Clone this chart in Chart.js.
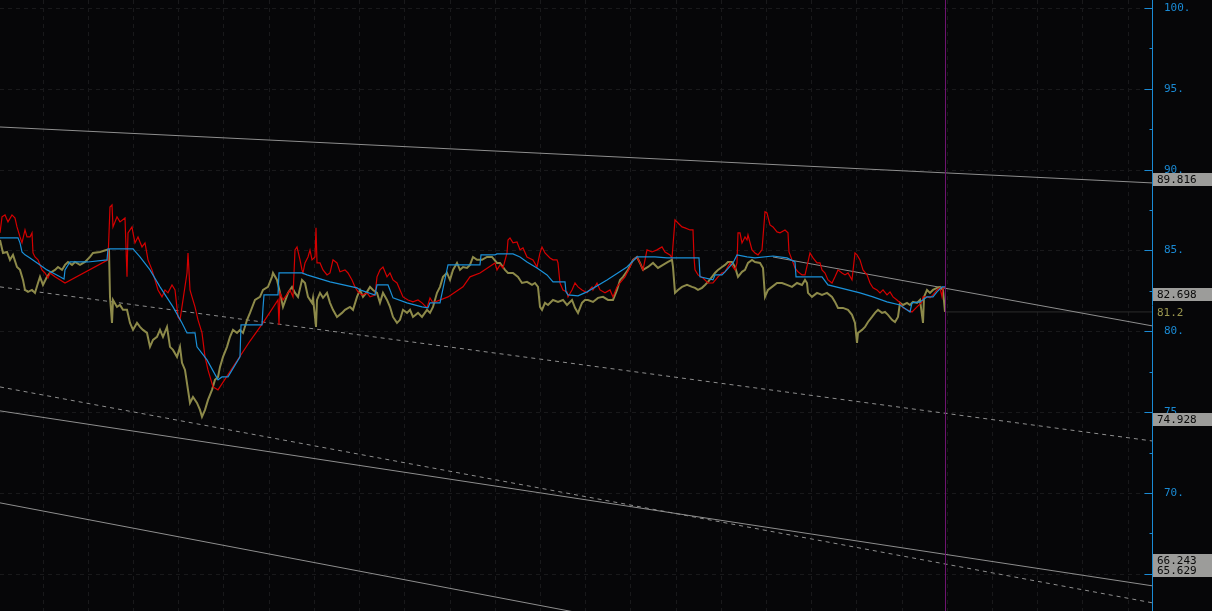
<!DOCTYPE html>
<html lang="en">
<head>
    <meta charset="UTF-8">
    <title>Price channels</title>
    <script src="https://cdn.jsdelivr.net/npm/chart.js"></script>
    <style>
        body {
            margin: 0;
            background: #060608;
            overflow: hidden;
        }
    </style>
</head>
<body>
    <canvas id="myChart" width="1212" height="611"></canvas>
    <script>
        // bar index of the last bar / cursor, and the visible range
        const firstBar = 0;
        const lastBar = 1152;
        const cursorBar = 945;

        const priceMin = 62.70;
        const priceMax = 100.495;

        // axis ticks (every 2.5, labelled every 5) and vertical time grid
        const yTickValues = [65, 67.5, 70, 72.5, 75, 77.5, 80, 82.5, 85, 87.5, 90, 92.5, 95, 97.5, 100];
        const xGridBars = [43, 88, 133, 178, 223, 269, 314, 359, 404, 450, 495, 540, 585, 630, 676, 721, 766, 811, 856, 902, 947, 992, 1037, 1082, 1128];

        // price tags at the right edge
        const tagValues = [89.816, 82.698, 74.928, 66.243, 65.629];
        const oliveTag = 81.2;

        // [bar, price]
        const redSeries = [
            [0,86.09],[2,87.08],[5,87.20],[8,86.77],[12,87.20],[15,87.01],[17,86.46],[20,85.84],[22,85.47],[25,86.27],
            [27,85.84],[30,85.84],[32,86.09],[33,84.85],[35,84.60],[38,84.42],[42,83.80],[45,83.61],[48,83.30],[50,83.61],
            [55,83.37],[65,82.99],[108,84.42],[110,87.69],[112,87.82],[113,86.46],[117,87.08],[120,86.77],[125,87.01],[127,83.37],
            [128,86.09],[132,86.46],[133,86.09],[135,85.47],[138,85.84],[142,85.22],[145,85.47],[148,84.42],[152,83.80],[155,83.18],
            [158,82.56],[162,82.13],[165,82.56],[168,82.38],[172,82.87],[175,82.56],[178,80.89],[180,80.71],[183,81.94],[187,83.61],
            [188,84.85],[190,82.56],[192,82.13],[195,81.51],[198,80.71],[202,79.90],[205,78.42],[208,77.61],[213,76.56],[218,76.38],
            [250,79.40],[263,80.52],[278,81.94],[279,80.40],[280,82.38],[283,81.94],[290,82.56],[293,82.13],[295,85.03],[297,85.22],
            [300,84.42],[302,83.80],[303,83.61],[305,84.23],[308,84.60],[310,85.03],[312,84.42],[315,84.60],[316,86.40],[317,84.23],
            [320,84.23],[323,83.80],[327,83.49],[330,83.61],[333,84.42],[337,84.23],[340,83.68],[345,83.80],[348,83.61],[352,83.18],
            [355,82.75],[358,82.44],[362,82.25],[367,82.38],[370,82.13],[375,82.25],[377,83.37],[380,83.80],[383,83.98],[387,83.37],
            [390,83.61],[393,83.18],[397,82.99],[400,82.56],[403,82.13],[408,81.94],[413,81.82],[418,81.94],[422,81.76],[427,81.45],
            [430,82.07],[433,81.76],[448,82.13],[463,82.75],[470,83.37],[480,83.61],[495,84.23],[497,83.80],[500,84.11],[503,83.92],
            [507,84.85],[508,85.65],[510,85.78],[513,85.47],[517,85.53],[520,85.04],[523,85.16],[527,84.60],[533,84.42],[537,83.98],
            [540,84.85],[542,85.22],[545,84.85],[550,84.54],[553,84.42],[557,84.42],[558,84.23],[560,82.99],[563,82.56],[567,82.44],
            [568,82.13],[572,82.56],[575,82.99],[578,82.75],[582,82.56],[587,82.38],[592,82.75],[593,82.56],[597,82.99],[600,82.56],
            [605,82.38],[610,82.56],[613,82.13],[617,82.75],[620,82.99],[625,83.37],[630,83.98],[633,84.42],[637,84.60],[640,84.23],
            [643,83.80],[647,85.04],[652,84.91],[657,85.04],[662,85.22],[665,84.91],[670,84.73],[672,84.54],[675,86.89],[678,86.70],
            [682,86.46],[685,86.40],[690,86.27],[693,86.27],[694,84.60],[695,83.80],[698,83.49],[703,83.30],[708,82.99],[713,82.99],
            [718,83.37],[722,83.61],[725,83.68],[730,84.23],[735,83.80],[737,84.23],[738,86.09],[740,86.09],[742,85.47],[745,85.84],
            [747,85.65],[748,85.96],[752,85.04],[755,84.85],[758,84.73],[762,85.04],[765,87.39],[767,87.32],[770,86.58],[773,86.46],
            [777,86.15],[780,86.09],[785,86.27],[788,86.09],[789,84.91],[792,84.42],[795,83.92],[798,83.68],[802,83.49],[805,83.49],
            [808,84.29],[810,84.85],[813,84.54],[817,84.23],[820,84.23],[822,83.80],[825,83.61],[828,83.18],[832,82.99],[835,83.37],
            [838,83.80],[842,83.61],[845,83.49],[848,83.61],[852,83.18],[855,84.85],[857,84.73],[860,84.42],[863,83.80],[867,83.49],
            [870,82.99],[873,82.69],[877,82.56],[880,82.38],[883,82.56],[887,82.25],[890,82.44],[893,82.13],[897,81.94],[900,81.76],
            [903,81.45],[907,81.33],[912,81.20],[917,81.51],[922,81.82],[923,82.13],[927,82.13],[930,82.07],[933,82.25],[937,82.56],
            [940,82.69],[942,82.13],[943,82.69],[945,82.70]
        ];

        const oliveSeries = [
            [0,85.65],[3,84.85],[7,84.91],[10,84.42],[13,84.73],[17,83.98],[20,83.80],[23,83.18],[25,82.56],[28,82.44],
            [32,82.56],[35,82.38],[38,82.99],[40,83.37],[43,82.87],[47,83.37],[50,83.61],[55,83.80],[58,83.98],[62,83.80],
            [65,84.11],[68,84.29],[72,84.11],[75,84.29],[80,84.11],[85,84.29],[90,84.60],[93,84.85],[100,84.91],[107,85.04],
            [109,85.04],[110,82.13],[112,80.52],[113,81.94],[117,81.51],[120,81.63],[123,81.33],[127,81.33],[130,80.52],[133,80.09],
            [137,80.52],[140,80.27],[143,80.09],[147,79.90],[150,79.04],[153,79.47],[157,79.66],[160,80.09],[163,79.66],[167,80.27],
            [170,79.04],[173,78.85],[177,78.42],[180,79.04],[182,78.05],[185,77.61],[188,76.38],[190,75.57],[193,75.94],[197,75.57],
            [200,75.14],[202,74.71],[205,75.14],[208,75.76],[212,76.38],[215,77.00],[218,77.18],[220,77.80],[223,78.42],[227,79.04],
            [230,79.66],[233,80.09],[237,79.90],[240,80.09],[243,79.90],[247,80.70],[250,81.14],[255,81.94],[260,82.13],[263,82.56],
            [268,82.75],[272,83.37],[273,83.61],[277,83.18],[280,82.38],[283,81.51],[288,82.38],[292,82.75],[295,82.38],[298,82.13],
            [302,83.18],[305,82.99],[308,82.13],[312,81.76],[313,82.07],[316,80.27],[317,81.94],[320,82.38],[323,82.07],[327,82.38],
            [330,81.76],[333,81.33],[337,80.89],[342,81.14],[345,81.33],[350,81.51],[353,81.33],[357,82.13],[360,82.56],[363,82.13],
            [367,82.44],[370,82.75],[373,82.56],[377,82.38],[380,81.76],[383,82.38],[387,81.94],[390,81.51],[393,80.89],[397,80.52],
            [400,80.71],[403,81.33],[407,81.14],[410,81.33],[413,80.89],[418,81.14],[422,80.89],[427,81.33],[430,81.14],[433,81.51],
            [437,82.38],[440,82.75],[443,83.37],[447,83.61],[450,83.18],[453,83.80],[457,84.23],[460,83.80],[463,83.98],[467,83.92],
            [470,84.11],[473,84.60],[477,84.42],[482,84.42],[487,84.60],[492,84.60],[497,84.23],[500,84.23],[505,83.80],[508,83.61],
            [513,83.61],[518,83.37],[522,82.99],[527,83.06],[532,82.87],[535,82.99],[538,82.75],[540,81.51],[542,81.33],[545,81.76],
            [548,81.63],[553,81.94],[558,81.82],[563,81.94],[567,81.63],[572,81.94],[575,81.45],[578,81.14],[582,81.76],[585,81.94],
            [588,81.94],[593,81.82],[598,82.07],[603,82.13],[608,81.94],[613,81.94],[617,82.56],[620,83.18],[623,83.37],[628,83.80],
            [633,84.42],[637,84.60],[640,84.23],[643,83.80],[648,83.98],[653,84.23],[658,83.92],[663,84.11],[668,84.29],[672,84.42],
            [673,83.98],[675,82.38],[678,82.56],[682,82.75],[687,82.87],[692,82.75],[695,82.69],[698,82.56],[702,82.69],[705,82.87],
            [708,83.06],[712,83.37],[715,83.61],[718,83.80],[722,83.98],[725,84.11],[728,84.29],[732,84.29],[735,83.98],[738,83.37],
            [742,83.68],[745,83.80],[748,84.23],[752,84.42],[755,84.29],[760,84.23],[763,83.92],[765,82.13],[768,82.56],[772,82.75],
            [777,82.99],[782,82.99],[787,82.87],[792,82.75],[797,82.99],[802,82.87],[805,83.18],[807,82.99],[808,82.38],[812,82.13],
            [817,82.38],[822,82.25],[827,82.38],[832,82.13],[835,81.82],[838,81.45],[843,81.45],[848,81.33],[852,81.02],[855,80.52],
            [857,79.28],[858,79.90],[862,80.09],[865,80.27],[868,80.58],[872,80.89],[875,81.14],[878,81.33],[882,81.14],[885,81.20],
            [888,81.02],[892,80.71],[895,80.58],[898,80.89],[900,81.76],[903,81.63],[907,81.76],[910,81.63],[913,81.82],[917,81.76],
            [920,81.94],[923,80.52],[924,82.13],[927,82.56],[930,82.38],[933,82.56],[937,82.69],[940,82.75],[943,82.56],[945,81.20]
        ];

        const blueSeries = [
            [0,85.78],[18,85.78],[20,85.47],[22,84.91],[25,84.73],[30,84.54],[40,84.11],[47,83.80],[53,83.61],[60,83.37],
            [64,83.24],[65,83.80],[70,84.29],[75,84.29],[88,84.29],[107,84.42],[108,85.10],[133,85.10],[140,84.60],[150,83.80],
            [160,82.75],[173,81.51],[182,80.52],[187,79.90],[195,79.90],[197,79.04],[207,78.23],[218,77.00],[222,77.18],[228,77.18],
            [240,78.42],[241,80.40],[262,80.40],[263,81.45],[264,82.25],[278,82.25],[279,83.61],[302,83.61],[307,83.49],[330,83.06],
            [357,82.69],[360,82.56],[375,82.25],[377,82.87],[388,82.87],[390,82.56],[393,82.07],[407,81.76],[422,81.51],[428,81.45],
            [430,81.76],[440,81.76],[448,84.11],[480,84.11],[481,84.73],[495,84.73],[497,84.79],[513,84.79],[520,84.60],[527,84.29],
            [537,83.92],[547,83.49],[553,83.06],[565,83.06],[566,82.44],[568,82.25],[578,82.19],[587,82.44],[607,83.18],[627,83.98],
            [637,84.60],[655,84.60],[667,84.54],[675,84.54],[699,84.54],[700,83.37],[713,83.18],[715,83.49],[722,83.49],[725,83.68],
            [733,84.23],[737,84.73],[747,84.60],[755,84.54],[773,84.66],[787,84.54],[795,84.29],[796,83.37],[822,83.37],[828,82.87],
            [840,82.69],[860,82.38],[873,82.13],[887,81.82],[900,81.63],[910,81.20],[912,81.76],[920,81.82],[927,82.13],[933,82.13],
            [937,82.44],[942,82.75],[945,82.75]
        ];

        // channel lines, [bar, price] at each end
        const upperLine = [[0,92.64],[1152,89.18]];
        const shortLine = [[773,84.60],[1152,80.34]];
        const midDashed = [[0,82.75],[1152,73.22]];
        const lowDashed = [[0,76.56],[1152,63.21]];
        const lowSolid = [[0,75.08],[1152,64.26]];
        const bottomLine = [[0,69.39],[1152,55.85]];
        const oliveLevel = [[945,81.2],[1152,81.2]];

        function toPoints(pairs) {
            return pairs.map(p => ({ x: p[0], y: p[1] }));
        }

        function lineSet(pairs, color, width, dash, order) {
            return {
                data: toPoints(pairs),
                borderColor: color,
                borderWidth: width,
                borderDash: dash,
                pointRadius: 0,
                tension: 0,
                order: order
            };
        }

        const axisBlue = '#1a8ad4';
        const monoFont = '"DejaVu Sans Mono", "Liberation Mono", monospace';

        const chartStyle = {
            id: 'chartStyle',
            beforeDraw(chart) {
                const ctx = chart.ctx;
                ctx.save();
                ctx.fillStyle = '#060608';
                ctx.fillRect(0, 0, chart.width, chart.height);
                ctx.restore();
            },
            beforeDatasetsDraw(chart) {
                const { ctx, chartArea: a, scales: { x, y } } = chart;
                ctx.save();
                ctx.strokeStyle = '#19191b';
                ctx.lineWidth = 1;
                ctx.setLineDash([4, 4]);
                yTickValues.filter(v => v % 5 === 0).forEach(v => {
                    const py = Math.round(y.getPixelForValue(v)) + 0.5;
                    ctx.beginPath();
                    ctx.moveTo(a.left, py);
                    ctx.lineTo(a.right, py);
                    ctx.stroke();
                });
                xGridBars.forEach(b => {
                    const px = Math.round(x.getPixelForValue(b)) + 0.5;
                    ctx.beginPath();
                    ctx.moveTo(px, a.top);
                    ctx.lineTo(px, a.bottom);
                    ctx.stroke();
                });
                ctx.restore();
            },
            afterDraw(chart) {
                const { ctx, chartArea: a, scales: { x, y } } = chart;
                ctx.save();

                // cursor
                const cx = Math.round(x.getPixelForValue(cursorBar)) + 0.5;
                ctx.strokeStyle = '#6e1470';
                ctx.lineWidth = 1;
                ctx.beginPath();
                ctx.moveTo(cx, a.top);
                ctx.lineTo(cx, a.bottom);
                ctx.stroke();

                // axis line and tick marks
                const ax = Math.round(a.right) + 0.5;
                ctx.strokeStyle = axisBlue;
                ctx.beginPath();
                ctx.moveTo(ax, 0);
                ctx.lineTo(ax, chart.height);
                ctx.stroke();
                yTickValues.forEach(v => {
                    const py = Math.round(y.getPixelForValue(v)) + 0.5;
                    const len = v % 5 === 0 ? 8 : 3;
                    ctx.beginPath();
                    ctx.moveTo(ax - len, py);
                    ctx.lineTo(ax, py);
                    ctx.stroke();
                });

                // price tags
                ctx.font = '11px ' + monoFont;
                ctx.textBaseline = 'middle';
                ctx.textAlign = 'left';
                tagValues.forEach(v => {
                    const top = Math.round(y.getPixelForValue(v));
                    ctx.fillStyle = '#9c9c9a';
                    ctx.fillRect(ax + 0.5, top, chart.width - ax, 13);
                });
                tagValues.forEach(v => {
                    const top = Math.round(y.getPixelForValue(v));
                    ctx.fillStyle = '#0a0a0a';
                    ctx.fillText(v.toFixed(3), ax + 4.5, top + 7);
                });
                ctx.fillStyle = '#9a9650';
                ctx.fillText(String(oliveTag), ax + 4.5, y.getPixelForValue(oliveTag) + 1);

                ctx.restore();
            }
        };

        const ctx = document.getElementById('myChart').getContext('2d');
        new Chart(ctx, {
            type: 'line',
            data: {
                datasets: [
                    lineSet(upperLine, '#8e8e8e', 1, [], 6),
                    lineSet(shortLine, '#8e8e8e', 1, [], 6),
                    lineSet(midDashed, '#8e8e8e', 1, [4, 4], 6),
                    lineSet(lowDashed, '#8e8e8e', 1, [4, 4], 6),
                    lineSet(lowSolid, '#8e8e8e', 1, [], 6),
                    lineSet(bottomLine, '#8e8e8e', 1, [], 6),
                    lineSet(oliveLevel, '#2c2c2c', 1, [], 6),
                    lineSet(oliveSeries, '#8d8a4a', 2, [], 3),
                    lineSet(redSeries, '#d40000', 1.2, [], 2),
                    lineSet(blueSeries, '#1a90d8', 1.2, [], 1)
                ]
            },
            options: {
                responsive: false,
                animation: false,
                layout: { padding: 0 },
                plugins: {
                    legend: { display: false },
                    tooltip: { enabled: false }
                },
                scales: {
                    x: {
                        type: 'linear',
                        min: firstBar,
                        max: lastBar,
                        display: false
                    },
                    y: {
                        type: 'linear',
                        position: 'right',
                        min: priceMin,
                        max: priceMax,
                        afterBuildTicks: s => {
                            s.ticks = yTickValues.map(v => ({ value: v }));
                        },
                        afterFit: s => {
                            s.width = 60;
                            s.paddingTop = 0;
                            s.paddingBottom = 0;
                        },
                        grid: { display: false },
                        border: { display: false },
                        ticks: {
                            color: axisBlue,
                            padding: 4,
                            font: { family: monoFont, size: 11 },
                            callback: v => (v % 5 === 0 ? v + '.' : '')
                        }
                    }
                }
            },
            plugins: [chartStyle]
        });
    </script>
</body>
</html>
